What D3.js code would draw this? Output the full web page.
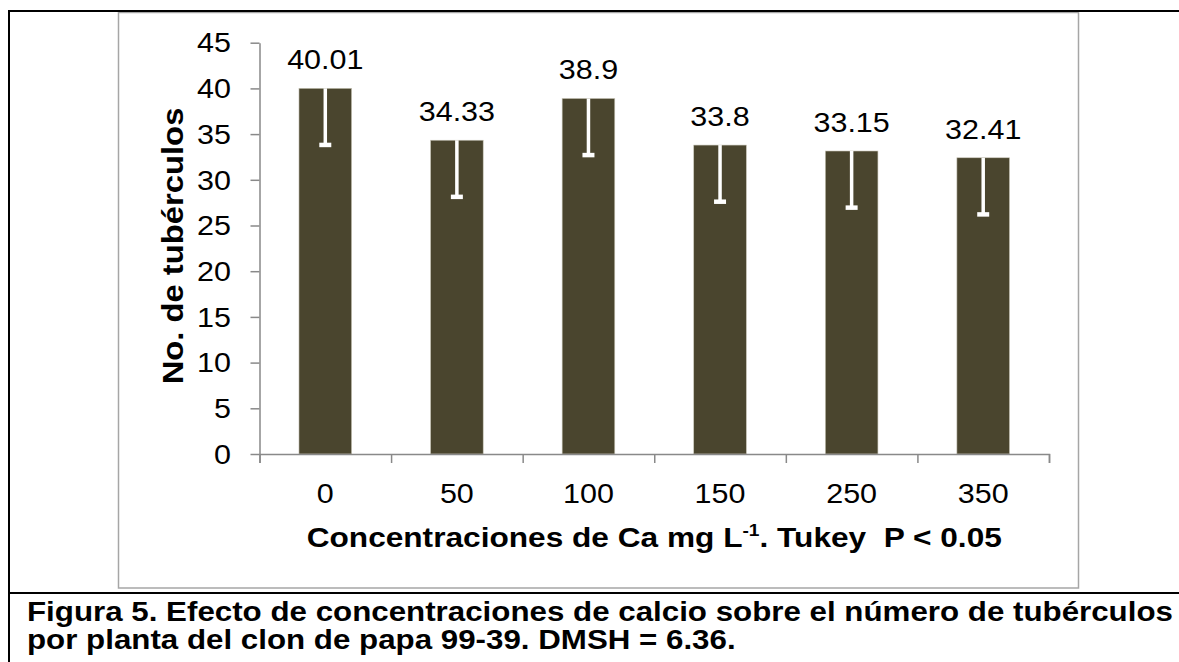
<!DOCTYPE html>
<html>
<head>
<meta charset="utf-8">
<script src="https://cdn.jsdelivr.net/npm/d3@7"></script>
<style>
  body { margin: 0; background: #fff; }
  text { font-family: "Liberation Sans", Arial, sans-serif; fill: #000; }
</style>
</head>
<body>
<script>
// datos
const categories = ["0", "50", "100", "150", "250", "350"];
const values = [40.01, 34.33, 38.9, 33.8, 33.15, 32.41];
const errors = [6.36, 6.36, 6.36, 6.36, 6.36, 6.36];
const yTicks = [0, 5, 10, 15, 20, 25, 30, 35, 40, 45];
const valueLabels = ["40.01", "34.33", "38.9", "33.8", "33.15", "32.41"];

const yTitle = "No. de tubérculos";
const captionLines = [
  "Figura 5. Efecto de concentraciones de calcio sobre el número de tubérculos",
  "por planta del clon de papa 99-39. DMSH = 6.36."
];

const W = 1179, H = 662;
const stretch = 1.13; // el texto del original es algo mas ancho que Arial

const svg = d3.select("body")
  .append("svg")
  .attr("width", W)
  .attr("height", H);

const x = d3.scaleBand()
  .domain(categories)
  .range([259.5, 1049])
  .paddingInner(0.6)
  .paddingOuter(0.3);

const xEdge = d3.scaleLinear()
  .domain([0, categories.length])
  .range([259.5, 1049]);

const y = d3.scaleLinear()
  .domain([0, 45])
  .range([454, 42.7]);

// marco de la tabla y del grafico
svg.append("rect")
  .attr("x", 118.5).attr("y", 12.5)
  .attr("width", 960).attr("height", 575.5)
  .attr("fill", "none")
  .attr("stroke", "#a6a6a6")
  .attr("stroke-width", 1.5);

svg.append("path")
  .attr("d", "M9,662V11H1179M9,593H1179")
  .attr("fill", "none")
  .attr("stroke", "#000")
  .attr("stroke-width", 2);

function label(g, px, py, txt, size, weight, anchor) {
  return g.append("text")
    .attr("transform", `translate(${px},${py}) scale(${stretch},1)`)
    .attr("text-anchor", anchor)
    .attr("font-size", size)
    .attr("font-weight", weight)
    .text(txt);
}

// barras
svg.selectAll("rect.bar")
  .data(values)
  .join("rect")
  .attr("class", "bar")
  .attr("x", (d, i) => x(categories[i]))
  .attr("y", d => y(d))
  .attr("width", x.bandwidth())
  .attr("height", d => y(0) - y(d))
  .attr("fill", "#4a452e")
  .attr("stroke", "#c9c6b8")
  .attr("stroke-width", 0.6);

// barras de error (solo hacia abajo, en blanco)
const err = svg.append("g")
  .attr("stroke", "#fff")
  .attr("stroke-width", 3.5);

values.forEach((v, i) => {
  const cx = x(categories[i]) + x.bandwidth() / 2;
  err.append("line")
    .attr("x1", cx).attr("x2", cx)
    .attr("y1", y(v)).attr("y2", y(v - errors[i]));
  err.append("line")
    .attr("x1", cx - 6).attr("x2", cx + 6)
    .attr("y1", y(v - errors[i]) - 1.5).attr("y2", y(v - errors[i]) - 1.5)
    .attr("stroke-width", 4.5);
});

// ejes
const axisColor = "#898989";

const gy = svg.append("g")
  .attr("transform", "translate(259.5,0)")
  .call(d3.axisLeft(y).tickValues(yTicks).tickSize(9).tickSizeOuter(0).tickFormat(""));

const gx = svg.append("g")
  .attr("transform", "translate(0,454)")
  .call(d3.axisBottom(xEdge).ticks(categories.length).tickSize(9).tickSizeOuter(9).tickFormat(""));

[gy, gx].forEach(g => {
  g.selectAll("path, line")
    .attr("stroke", axisColor)
    .attr("stroke-width", 1.5);
});

// etiquetas de los ejes
yTicks.forEach(t => {
  label(svg, 231, y(t) + 9.7, t, 27, "normal", "end");
});

categories.forEach(c => {
  label(svg, x(c) + x.bandwidth() / 2, 502.7, c, 27, "normal", "middle");
});

// valores sobre las barras
values.forEach((v, i) => {
  label(svg, x(categories[i]) + x.bandwidth() / 2, y(v) - 19, valueLabels[i], 27, "normal", "middle");
});

// titulo eje x con superindice
const xt = svg.append("text")
  .attr("transform", `translate(${(259.5 + 1049) / 2},546.7) scale(${stretch},1)`)
  .attr("text-anchor", "middle")
  .attr("font-size", 28)
  .attr("font-weight", "bold");
xt.append("tspan").text("Concentraciones de Ca mg L");
xt.append("tspan").attr("font-size", 17).attr("dy", -11).text("-1");
xt.append("tspan").attr("dy", 11).text(". Tukey \u00a0P < 0.05");

// titulo eje y
svg.append("text")
  .attr("transform", `translate(183,246) rotate(-90) scale(${stretch},1)`)
  .attr("text-anchor", "middle")
  .attr("font-size", 29)
  .attr("font-weight", "bold")
  .text(yTitle);

// pie de figura
captionLines.forEach((line, i) => {
  label(svg, 27, 620.5 + i * 28, line, 27.7, "bold", "start");
});
</script>
</body>
</html>
